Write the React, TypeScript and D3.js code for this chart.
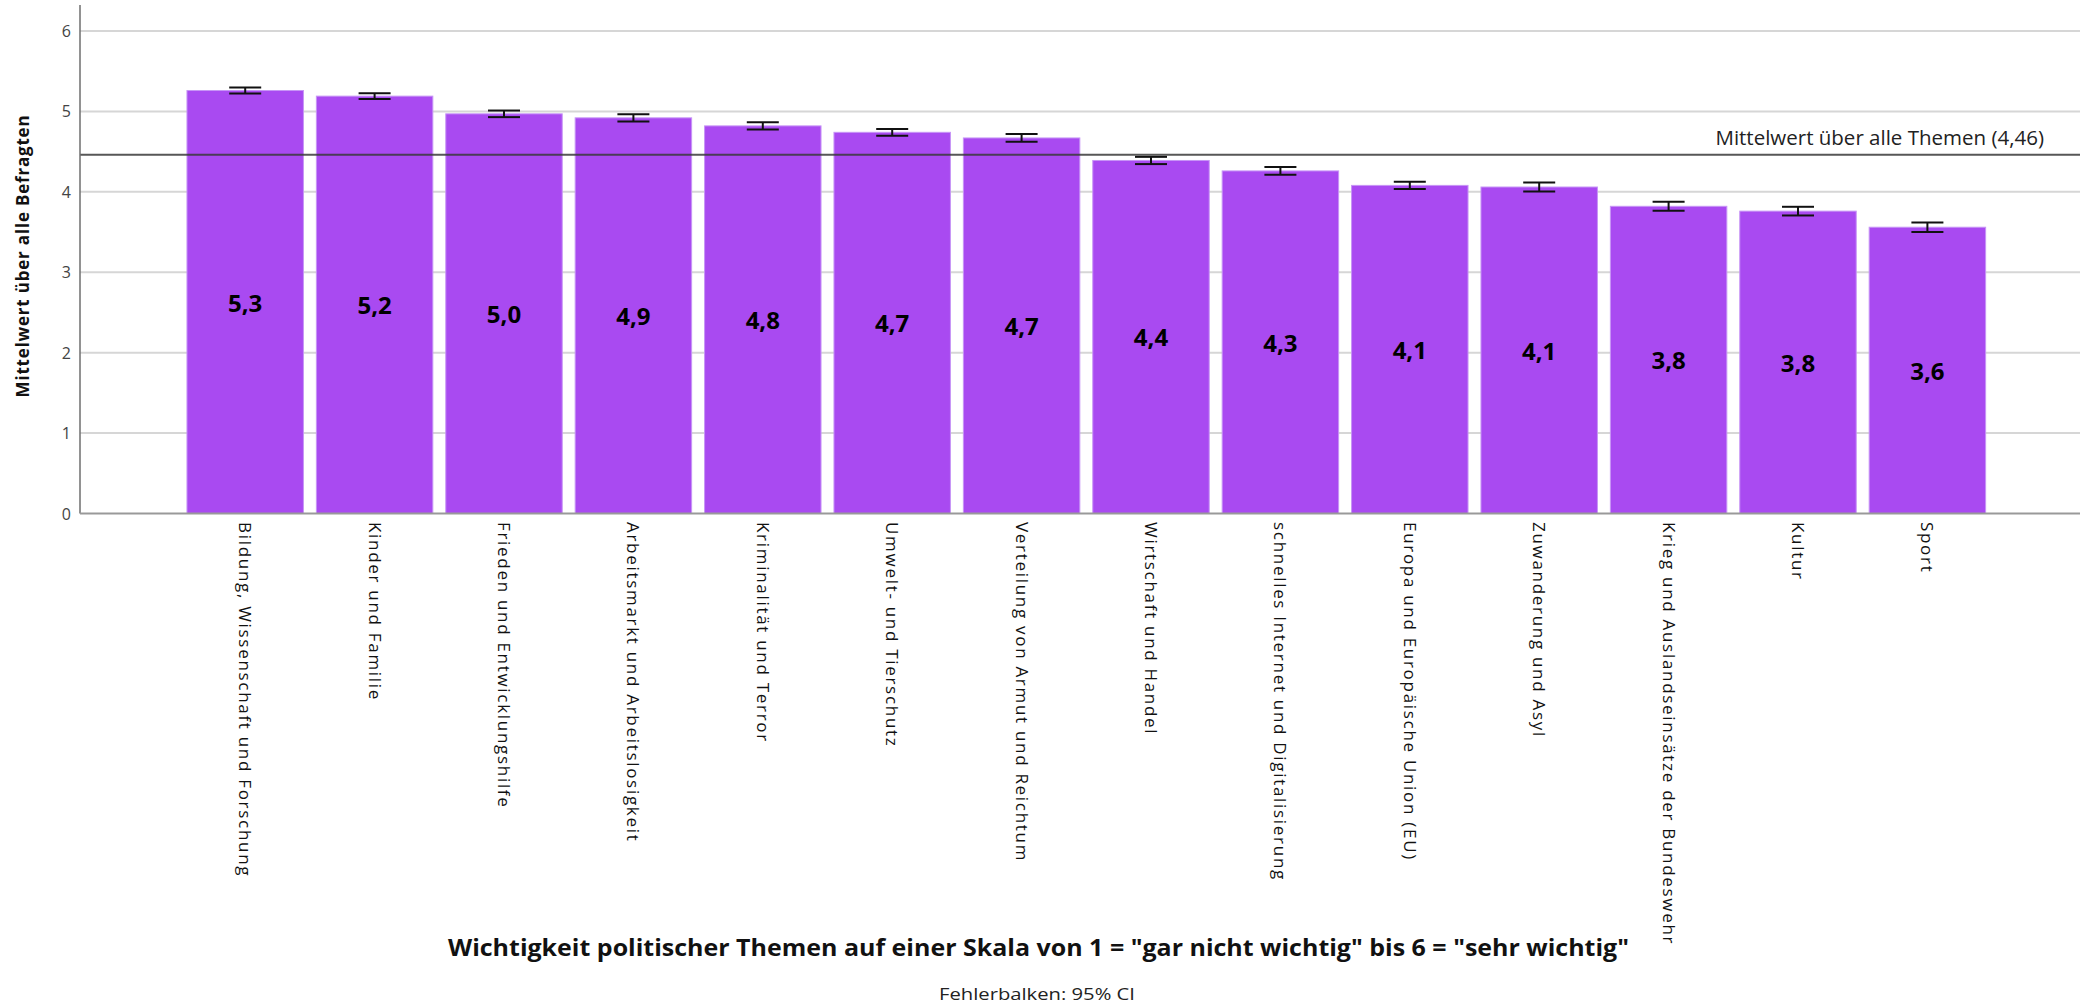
import React from "react";
import * as d3 from "d3";

const categories = [
  "Bildung, Wissenschaft und Forschung",
  "Kinder und Familie",
  "Frieden und Entwicklungshilfe",
  "Arbeitsmarkt und Arbeitslosigkeit",
  "Kriminalität und Terror",
  "Umwelt- und Tierschutz",
  "Verteilung von Armut und Reichtum",
  "Wirtschaft und Handel",
  "schnelles Internet und Digitalisierung",
  "Europa und Europäische Union (EU)",
  "Zuwanderung und Asyl",
  "Krieg und Auslandseinsätze der Bundeswehr",
  "Kultur",
  "Sport",
];
const means = [5.26, 5.19, 4.97, 4.92, 4.82, 4.74, 4.67, 4.39, 4.26, 4.08, 4.06, 3.82, 3.76, 3.56];
const ciHalf = [0.037, 0.037, 0.041, 0.044, 0.045, 0.042, 0.048, 0.045, 0.048, 0.045, 0.055, 0.056, 0.054, 0.06];
const yTicks = [0, 1, 2, 3, 4, 5, 6];
const overallMean = 4.46;
const meanLabel = "Mittelwert über alle Themen (4,46)";
const yTitle = "Mittelwert über alle Befragten";
const xTitle = 'Wichtigkeit politischer Themen auf einer Skala von 1 = "gar nicht wichtig" bis 6 = "sehr wichtig"';
const footnote = "Fehlerbalken: 95% CI";

const W = 2080;
const H = 1006;
const axisX = 80;
const plotRight = 2080;
const plotTop = 5;

export default function App() {
  const x = d3
    .scaleBand<string>()
    .domain(categories)
    .range([180.5, 180.5 + 14 * 129.4])
    .paddingInner(0.1)
    .paddingOuter(0.05);
  const y = d3.scaleLinear().domain([0, 6]).range([513.5, 31]);
  const fmt = (v: number) => d3.format(".1f")(v).replace(".", ",");
  const font = "'Open Sans', 'DejaVu Sans', sans-serif";
  const barColor = "#a94af1";

  return (
    <svg
      width={W}
      height={H}
      style={{ position: "absolute", left: 0, top: 0, background: "#fff" }}
      fontFamily={font}
    >
      <rect x={0} y={0} width={W} height={H} fill="#fff" />
      {/* gridlines */}
      {yTicks.slice(1).map((t) => (
        <line key={t} x1={axisX} x2={plotRight} y1={y(t)} y2={y(t)} stroke="#d6d6d6" strokeWidth={2} />
      ))}
      {/* bars */}
      {categories.map((c, i) => (
        <rect
          key={c}
          x={x(c)}
          y={y(means[i])}
          width={x.bandwidth()}
          height={y(0) - y(means[i])}
          fill={barColor}
          stroke="#c795f6"
          strokeWidth={1}
        />
      ))}
      {/* mean line */}
      <line x1={axisX} x2={plotRight} y1={y(overallMean)} y2={y(overallMean)} stroke="#3a3a3a" strokeWidth={2} opacity={0.85} />
      <text x={2044} y={y(overallMean) - 10} textAnchor="end" fontSize={20.5} fill="#222">
        {meanLabel}
      </text>
      {/* error bars */}
      {categories.map((c, i) => {
        const cx = (x(c) as number) + x.bandwidth() / 2;
        const lo = y(means[i] - ciHalf[i]);
        const hi = y(means[i] + ciHalf[i]);
        return (
          <g key={c} stroke="#111" strokeWidth={2}>
            <line x1={cx} x2={cx} y1={lo} y2={hi} />
            <line x1={cx - 16} x2={cx + 16} y1={lo} y2={lo} />
            <line x1={cx - 16} x2={cx + 16} y1={hi} y2={hi} />
          </g>
        );
      })}
      {/* value labels */}
      {categories.map((c, i) => (
        <text
          key={c}
          x={(x(c) as number) + x.bandwidth() / 2}
          y={(y(means[i]) + y(0)) / 2}
          textAnchor="middle"
          dominantBaseline="central"
          fontSize={24}
          fontWeight="bold"
          fill="#000"
        >
          {fmt(means[i])}
        </text>
      ))}
      {/* axes */}
      <line x1={axisX} x2={axisX} y1={plotTop} y2={y(0)} stroke="#6e6e6e" strokeWidth={1.5} />
      <line x1={axisX} x2={plotRight} y1={y(0)} y2={y(0)} stroke="#999" strokeWidth={2} />
      {yTicks.map((t) => (
        <text key={t} x={71} y={y(t)} textAnchor="end" dominantBaseline="central" fontSize={16} fill="#444">
          {t}
        </text>
      ))}
      {categories.map((c) => {
        const cx = (x(c) as number) + x.bandwidth() / 2;
        return (
          <text
            key={c}
            transform={`translate(${cx},522) rotate(90)`}
            dy="0.35em"
            fontSize={17}
            letterSpacing={1.7}
            fill="#111"
          >
            {c}
          </text>
        );
      })}
      <text
        transform={`translate(22,256) rotate(-90)`}
        textAnchor="middle"
        dominantBaseline="central"
        fontSize={17}
        fontWeight="bold"
        letterSpacing={0.8}
        fill="#111"
      >
        {yTitle}
      </text>
      <text x={1038.5} y={956} textAnchor="middle" fontSize={23} fontWeight="bold" fill="#111" textLength={1181} lengthAdjust="spacingAndGlyphs">
        {xTitle}
      </text>
      <text x={1037} y={1000} textAnchor="middle" fontSize={17} fill="#222" textLength={196} lengthAdjust="spacingAndGlyphs">
        {footnote}
      </text>
    </svg>
  );
}
